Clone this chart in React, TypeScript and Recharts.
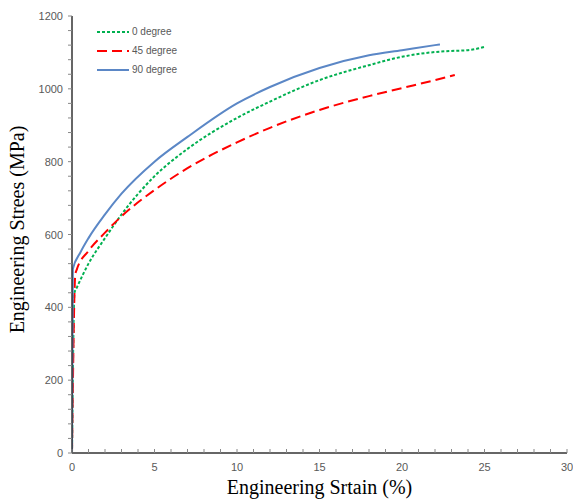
import { LineChart, Line, XAxis, YAxis } from 'recharts';

document.body.style.margin = '0';

// 0 degree
const strain0 = [0, 0.15, 0.3, 1, 2, 3, 5, 7, 10, 12, 15, 18, 20, 22, 23, 24, 25];
const stress0 = [0, 440, 455, 520, 590, 655, 760, 835, 920, 965, 1024, 1065, 1088, 1101, 1104, 1106, 1115];

// 45 degree
const strain45 = [0, 0.2, 0.3, 1, 2, 3, 5, 7, 10, 12, 15, 18, 20, 22, 23.2];
const stress45 = [0, 490, 505, 555, 605, 650, 722, 782, 853, 893, 942, 980, 1002, 1024, 1038];

// 90 degree
const strain90 = [0, 0.05, 0.5, 1, 2, 3, 5, 7, 10, 12, 15, 18, 20, 22, 22.3];
const stress90 = [0, 505, 550, 590, 655, 712, 800, 868, 960, 1005, 1057, 1092, 1106, 1120, 1122];

const xTicks = Array.from({ length: 31 }, (_, i) => i);
const yTicks = Array.from({ length: 31 }, (_, i) => i * 40);

const toRows = (xs: number[], ys: number[]) => xs.map((x, i) => ({ x, y: ys[i] }));

const series = [
  { name: '0 degree', data: toRows(strain0, stress0), color: '#00B050', dash: '3 2' },
  { name: '45 degree', data: toRows(strain45, stress45), color: '#FF0000', dash: '10 5' },
  { name: '90 degree', data: toRows(strain90, stress90), color: '#5B87C6', dash: undefined },
];

const tickFont = { fontFamily: 'Liberation Sans, Arial, sans-serif', fontSize: 11, fill: '#595959' };

const XTick = (props: any) => {
  const { x, y, payload } = props;
  return (
    <g>
      <line x1={x} x2={x} y1={y} y2={y - 4} stroke="#888" />
      {payload.value % 5 === 0 && (
        <text x={x} y={y + 18} textAnchor="middle" {...tickFont}>{payload.value}</text>
      )}
    </g>
  );
};

const YTick = (props: any) => {
  const { x, y, payload } = props;
  return (
    <g>
      <line x1={x} x2={x - 4} y1={y} y2={y} stroke="#888" />
      {payload.value % 200 === 0 && (
        <text x={x - 9} y={y + 4} textAnchor="end" {...tickFont}>{payload.value}</text>
      )}
    </g>
  );
};

const LegendBox = () => (
  <div
    style={{
      position: 'absolute',
      left: 97,
      top: 22,
      fontFamily: 'Liberation Sans, Arial, sans-serif',
      fontSize: 10,
      color: '#595959',
    }}
  >
    {series.map((s) => (
      <div key={s.name} style={{ display: 'flex', alignItems: 'center', height: 19 }}>
        <svg width={32} height={4} style={{ marginRight: 3 }}>
          <line x1={0} x2={32} y1={2} y2={2} stroke={s.color} strokeWidth={2} strokeDasharray={s.dash} />
        </svg>
        <span>{s.name}</span>
      </div>
    ))}
  </div>
);

export default function App() {
  return (
    <div style={{ position: 'relative', width: 573, height: 502 }}>
      <LineChart width={573} height={502} margin={{ top: 16, right: 6, left: 12, bottom: 0 }}>
        <XAxis
          dataKey="x"
          type="number"
          domain={[0, 30]}
          ticks={xTicks}
          interval={0}
          tickSize={0}
          tickMargin={0}
          tickLine={false}
          tick={<XTick />}
          axisLine={{ stroke: '#333', strokeWidth: 1.5 }}
          height={49}
          allowDataOverflow
          label={{
            value: 'Engineering Srtain (%)',
            position: 'insideBottom',
            offset: 8,
            style: { fontFamily: 'Liberation Serif, Times New Roman, serif', fontSize: 20, fill: '#000' },
          }}
        />
        <XAxis
          xAxisId="top"
          orientation="top"
          dataKey="x"
          type="number"
          domain={[0, 30]}
          tick={false}
          tickLine={false}
          height={0}
          axisLine={{ stroke: '#333' }}
        />
        <YAxis
          dataKey="y"
          type="number"
          domain={[0, 1200]}
          ticks={yTicks}
          interval={0}
          tickSize={0}
          tickMargin={0}
          tickLine={false}
          tick={<YTick />}
          axisLine={{ stroke: '#333', strokeWidth: 1.5 }}
          width={60}
          label={{
            value: 'Engineering Strees (MPa)',
            angle: -90,
            position: 'insideLeft',
            offset: 0,
            dx: 5,
            dy: -5,
            style: { textAnchor: 'middle', fontFamily: 'Liberation Serif, Times New Roman, serif', fontSize: 20, fill: '#000' },
          }}
        />
        <YAxis
          yAxisId="right"
          orientation="right"
          type="number"
          domain={[0, 1200]}
          tick={false}
          tickLine={false}
          width={0}
          axisLine={{ stroke: '#777' }}
        />
        {series.map((s) => (
          <Line
            key={s.name}
            data={s.data}
            dataKey="y"
            name={s.name}
            type="monotone"
            stroke={s.color}
            strokeWidth={2}
            strokeDasharray={s.dash}
            dot={false}
            isAnimationActive={false}
          />
        ))}
      </LineChart>
      <LegendBox />
    </div>
  );
}
